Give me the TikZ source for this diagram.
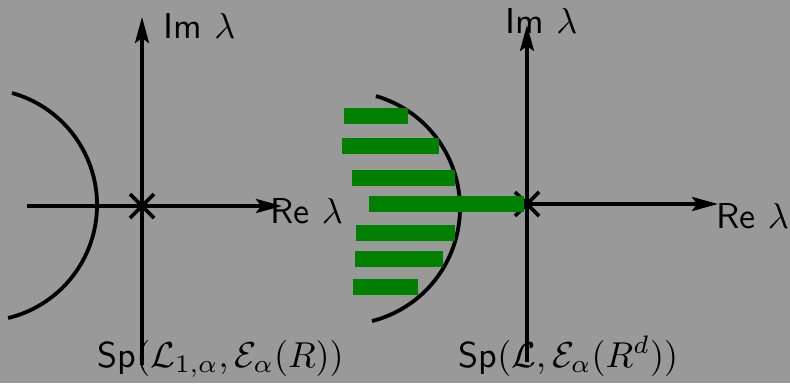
\documentclass[tikz,border=0pt]{standalone}
\usepackage{fontspec}
\usetikzlibrary{arrows.meta,calc}
\definecolor{bgray}{RGB}{153,153,153}
\definecolor{bargreen}{RGB}{0,128,0}
\begin{document}
\begin{tikzpicture}[x=1pt,y=-1pt,
  axis/.style={line width=3.6pt, -{Stealth[length=26pt,width=14pt,inset=5pt]}},
  curvestyle/.style={line width=3.8pt},
  crossmark/.style={line width=3.6pt},
  lbl/.style={anchor=base west, inner sep=0pt, scale=3.6, font=\sffamily},
  greenbar/.style={fill=bargreen}]
\fill[bgray] (0,0) rectangle (790,383);
\useasboundingbox (0,0) rectangle (790,383);
% left diagram
\coordinate (o1) at (142,206);
\draw[axis] (142,365) -- (142,17);
\draw[axis] (27,206) -- (282,206);
\draw[crossmark] ($(o1)+(-12,-12)$) -- ($(o1)+(12,12)$);
\draw[crossmark] ($(o1)+(-12,12)$) -- ($(o1)+(12,-12)$);
\draw[curvestyle] plot[domain=-74.4:76.4, samples=80] ({-19.25+116.3*cos(\x)}, {205+116.3*sin(\x)});
% right diagram
\coordinate (o2) at (527,204);
\draw[axis] (527,362) -- (527,25);
\draw[axis] (o2) -- (718,204);
\draw[crossmark] ($(o2)+(-12,-12)$) -- ($(o2)+(12,12)$);
\draw[crossmark] ($(o2)+(-12,12)$) -- ($(o2)+(12,-12)$);
\draw[curvestyle] plot[domain=-73.8:75.8, samples=80] ({343.4+116.6*cos(\x)}, {208+116.6*sin(\x)});
% green bars
\fill[greenbar] (344,108) rectangle (408,124);
\fill[greenbar] (342,138) rectangle (439,153.5);
\fill[greenbar] (352,170) rectangle (455,186);
\fill[greenbar] (369,196) rectangle (524,212);
\fill[greenbar] (356,224.5) rectangle (455,240.5);
\fill[greenbar] (355,251) rectangle (443,267);
\fill[greenbar] (353,279) rectangle (418,295);
% labels
\node[lbl] (im1) at (163,38) {Im $\lambda$};
\node[lbl] (re1) at (270,223) {Re $\lambda$};
\node[lbl] (im2) at (505,33) {Im $\lambda$};
\node[lbl] (re2) at (716,228) {Re $\lambda$};
\node[lbl] (sp1) at (97,367) {Sp$(\mathcal{L}_{1,\alpha},\mathcal{E}_\alpha(R))$};
\node[lbl] (sp2) at (458,367) {Sp$(\mathcal{L},\mathcal{E}_\alpha(R^d))$};
\end{tikzpicture}
\end{document}
